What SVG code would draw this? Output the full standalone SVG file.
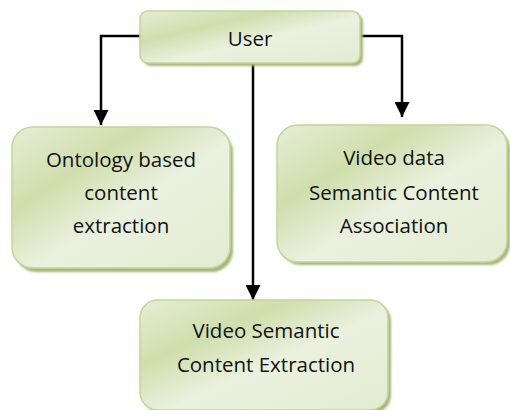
<svg xmlns="http://www.w3.org/2000/svg" width="510" height="410" viewBox="0 0 510 410">
  <style>
    .box { stroke: #c2d69a; stroke-width: 1.5; fill: url(#fillGreen); }
    .shadow { fill: #a3b77a; filter: url(#soft); }
    .label { font-family: "Open Sans", "Liberation Sans", sans-serif; font-size: 20.5px; fill: #111; text-anchor: middle; }
    .wire { fill: none; stroke: #000; stroke-width: 2.5; }
  </style>
  <defs>
    <linearGradient id="fillGreen" x1="0" y1="0" x2="1" y2="1">
      <stop offset="0" stop-color="#e6eed6"/>
      <stop offset="0.3" stop-color="#cfdeac"/>
      <stop offset="0.55" stop-color="#eaf1df"/>
      <stop offset="1" stop-color="#e3ecd1"/>
    </linearGradient>
    <filter id="soft" x="-10%" y="-10%" width="120%" height="120%">
      <feGaussianBlur stdDeviation="1"/>
    </filter>
    <marker id="arrow" markerWidth="15" markerHeight="15" refX="15" refY="7.5" orient="auto" markerUnits="userSpaceOnUse" viewBox="0 0 15 15">
      <path d="M0,0 L15,7.5 L0,15 Z" fill="#000"/>
    </marker>
  </defs>

  <g id="connectors">
    <path class="wire" d="M140,36 H101 V125" marker-end="url(#arrow)"/>
    <path class="wire" d="M360,36 H402 V117" marker-end="url(#arrow)"/>
    <path class="wire" d="M253,64 V300" marker-end="url(#arrow)"/>
  </g>

  <g id="user">
    <rect class="shadow" x="143" y="14" width="220" height="52" rx="8"/>
    <rect class="box" x="140" y="11" width="220" height="52" rx="8"/>
    <text class="label" x="250" y="46">User</text>
  </g>

  <g id="ontology">
    <rect class="shadow" x="15" y="131" width="218" height="141" rx="21"/>
    <rect class="box" x="12" y="127" width="218" height="141" rx="21"/>
    <text class="label" x="121" y="167">Ontology based</text>
    <text class="label" x="121" y="200">content</text>
    <text class="label" x="121" y="233">extraction</text>
  </g>

  <g id="association">
    <rect class="shadow" x="280" y="128" width="230" height="137" rx="21"/>
    <rect class="box" x="277" y="125" width="230" height="137" rx="21"/>
    <text class="label" x="394" y="165">Video data</text>
    <text class="label" x="394" y="200">Semantic Content</text>
    <text class="label" x="394" y="233">Association</text>
  </g>

  <g id="extraction">
    <rect class="shadow" x="143" y="303" width="248" height="110" rx="18"/>
    <rect class="box" x="140" y="300" width="248" height="110" rx="18"/>
    <text class="label" x="266" y="338">Video Semantic</text>
    <text class="label" x="266" y="372">Content Extraction</text>
  </g>
</svg>
